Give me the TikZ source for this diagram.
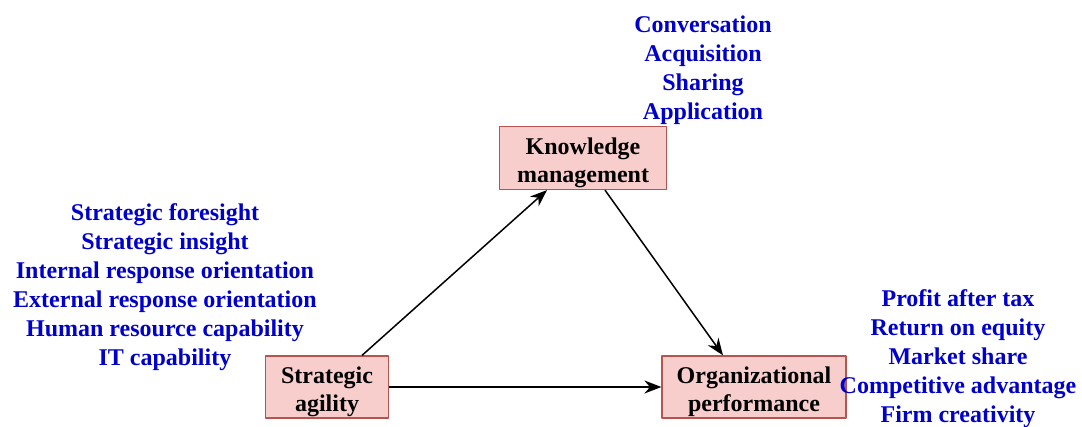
\documentclass[tikz,border=0pt]{standalone}
\usepackage{fontspec}
\setmainfont{Liberation Serif}
\usetikzlibrary{arrows.meta,positioning}
\definecolor{boxfill}{HTML}{F8CECC}
\definecolor{boxline}{HTML}{B85450}
\definecolor{dimblue}{HTML}{0000CC}
\newcommand{\boxtext}[2]{\raisebox{-5pt}[\height][\depth]{\begin{tabular}{@{}c@{}}#1\\#2\end{tabular}}}
\begin{document}
\begin{tikzpicture}[x=1pt,y=-1pt, line join=round, >={Stealth[length=17pt,width=13pt]},
	construct/.style={draw=boxline, fill=boxfill, line width=1.2pt, align=center, inner sep=0pt,
		font=\fontsize{24}{28}\selectfont\bfseries},
	dims/.style={text=dimblue, align=center, inner sep=0pt, font=\fontsize{24}{29}\selectfont\bfseries}]
	\useasboundingbox (0,0) rectangle (1082,426);
	%% constructs
	\node[construct, minimum width=167pt, minimum height=63pt] (km) at (583,158) {\boxtext{Knowledge}{management}};
	\node[construct, minimum width=123pt, minimum height=62pt] (sa) at (327,387) {\boxtext{Strategic}{agility}};
	\node[construct, minimum width=184pt, minimum height=62pt] (op) at (754,387) {\boxtext{Organizational}{performance}};
	%% dimensions
	\node[dims] (kmdim) at (703,70) {Conversation\\Acquisition\\Sharing\\Application};
	\node[dims] (sadim) at (165,287) {Strategic foresight\\Strategic insight\\Internal response orientation\\External response orientation\\Human resource capability\\IT capability};
	\node[dims] (opdim) at (958,359) {Profit after tax\\Return on equity\\Market share\\Competitive advantage\\Firm creativity};
	%% paths
	\draw[->, line width=1.5pt] (sa.north -| 362,0) -- (km.south -| 547,0);
	\draw[->, line width=1.5pt] (km.south -| 605,0) -- (op.north -| 723,0);
	\draw[->, line width=1.5pt] (sa) -- (op);
\end{tikzpicture}
\end{document}
